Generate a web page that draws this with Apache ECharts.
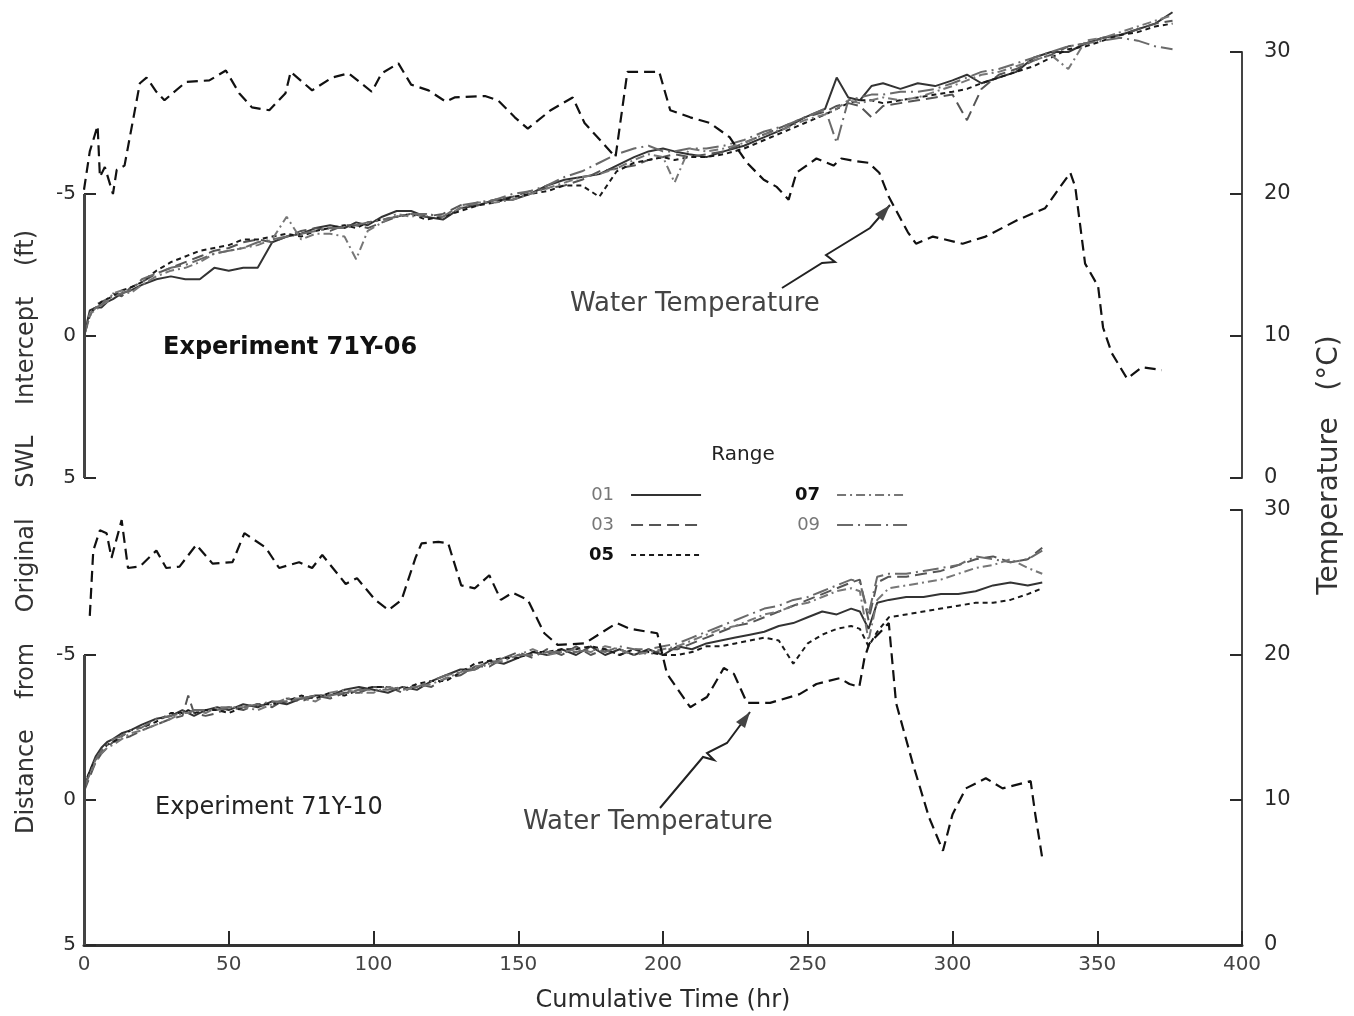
<!DOCTYPE html>
<html>
<head>
<meta charset="utf-8">
<title>Experiments 71Y-06 / 71Y-10</title>
<script src="https://cdn.jsdelivr.net/npm/echarts@6/dist/echarts.min.js"></script>
<style>
  html, body { margin: 0; padding: 0; background: #fff; }
  #chart { width: 1354px; height: 1016px; }
</style>
</head>
<body>
<div id="chart"></div>
<script>
// ---------------- data: experiment 71Y-06 (upper panel) ----------------
var topHours = [0, 2, 4, 6, 8, 10, 13, 16, 20, 25, 30, 35, 40, 45, 50, 55, 60, 65, 70, 75, 80, 85, 90, 94, 98, 103, 108, 113, 118, 124,
  130, 136, 142, 148, 154, 160, 166, 172, 178, 184, 190, 195, 200, 204, 209, 215, 221, 228, 235, 242, 249, 256, 260, 264, 268, 272, 276,
  282, 288, 294, 300, 305, 310, 316, 322, 328, 334, 340, 346, 352, 358, 364, 370, 376];
var top01 = [0, -0.9, -1.0, -1.0, -1.2, -1.3, -1.5, -1.6, -1.8, -2.0, -2.1, -2.0, -2.0, -2.4, -2.3, -2.4, -2.4, -3.3, -3.5, -3.6, -3.8, -3.9, -3.8, -4.0, -3.9, -4.2, -4.4, -4.4, -4.2, -4.1,
  -4.5, -4.6, -4.8, -4.8, -5.0, -5.3, -5.5, -5.6, -5.7, -6.0, -6.3, -6.5, -6.6, -6.5, -6.4, -6.3, -6.5, -6.7, -7.0, -7.3, -7.7, -8.0, -9.1, -8.4, -8.3, -8.8, -8.9,
  -8.7, -8.9, -8.8, -9.0, -9.2, -8.9, -9.1, -9.3, -9.8, -10.0, -10.0, -10.3, -10.5, -10.6, -10.8, -11.0, -11.4];
var top03 = [0, -0.7, -1.1, -1.2, -1.3, -1.5, -1.4, -1.7, -1.9, -2.2, -2.4, -2.6, -2.8, -3.0, -3.1, -3.3, -3.4, -3.3, -3.5, -3.7, -3.8, -3.7, -3.9, -3.9, -3.8, -4.0, -4.2, -4.3, -4.2, -4.3,
  -4.6, -4.6, -4.8, -4.9, -5.1, -5.2, -5.3, -5.5, -5.8, -5.9, -6.0, -6.2, -6.3, -6.4, -6.3, -6.4, -6.5, -6.8, -7.1, -7.4, -7.7, -7.9, -8.1, -8.2, -8.1, -7.7, -8.1,
  -8.2, -8.3, -8.4, -8.5, -7.6, -8.7, -9.2, -9.4, -9.7, -9.9, -10.2, -10.3, -10.5, -10.6, -10.8, -11.0, -11.1];
var top05 = [0, -0.8, -1.0, -1.2, -1.3, -1.4, -1.6, -1.7, -1.9, -2.3, -2.6, -2.8, -3.0, -3.1, -3.2, -3.4, -3.4, -3.5, -3.6, -3.5, -3.7, -3.8, -3.9, -3.8, -4.0, -4.1, -4.2, -4.3, -4.1, -4.2,
  -4.4, -4.6, -4.7, -4.9, -5.0, -5.1, -5.3, -5.3, -4.9, -5.8, -6.1, -6.2, -6.3, -6.2, -6.3, -6.3, -6.4, -6.6, -6.9, -7.2, -7.5, -7.8, -8.0, -8.2, -8.3, -8.3, -8.2,
  -8.3, -8.4, -8.5, -8.6, -8.7, -8.9, -9.1, -9.3, -9.5, -9.8, -10.1, -10.2, -10.4, -10.6, -10.7, -10.9, -11.0];
var top07 = [0, -0.8, -0.9, -1.1, -1.2, -1.5, -1.6, -1.5, -1.8, -2.1, -2.3, -2.4, -2.6, -2.9, -3.0, -3.1, -3.2, -3.4, -4.2, -3.4, -3.6, -3.6, -3.5, -2.7, -3.7, -4.0, -4.3, -4.2, -4.3, -4.2,
  -4.5, -4.7, -4.7, -4.8, -5.0, -5.2, -5.4, -5.6, -5.7, -5.9, -6.2, -6.4, -6.3, -5.4, -6.6, -6.5, -6.6, -6.8, -7.1, -7.3, -7.6, -7.8, -8.0, -8.3, -8.2, -8.3, -8.4,
  -8.3, -8.4, -8.6, -8.8, -9.0, -9.2, -9.3, -9.5, -9.7, -9.9, -9.4, -10.4, -10.5, -10.7, -10.9, -11.1, -11.3];
var top09 = [0, -0.7, -1.0, -1.1, -1.3, -1.4, -1.5, -1.6, -2.0, -2.2, -2.4, -2.5, -2.7, -2.9, -3.0, -3.1, -3.3, -3.4, -3.5, -3.6, -3.7, -3.8, -3.8, -3.9, -4.0, -4.1, -4.2, -4.3, -4.3, -4.2,
  -4.6, -4.7, -4.8, -5.0, -5.1, -5.3, -5.6, -5.8, -6.1, -6.4, -6.6, -6.7, -6.5, -6.5, -6.6, -6.6, -6.7, -6.9, -7.2, -7.4, -7.7, -8.0, -6.8, -8.3, -8.4, -8.5, -8.5,
  -8.6, -8.6, -8.7, -8.9, -9.1, -9.3, -9.4, -9.6, -9.8, -10.0, -10.2, -10.3, -10.4, -10.5, -10.4, -10.2, -10.1];
var topTempHours = [0, 2, 4.7, 5.5, 7.2, 10, 11.3, 14, 19.3, 21.6, 25, 27.8, 30.6, 35.3, 43.3, 49, 53.6, 58, 64, 69.6, 71.4, 78.8, 85.7, 91.4,
  99.4, 102.8, 108.6, 113, 119, 125, 128, 138.5, 143, 148.8, 153.3, 161.2, 168.8, 172.9, 183.6, 187.7, 198.7, 202.5, 209.4, 216.2, 223,
  229, 234.8, 239.3, 243.4, 246.1, 253, 258.9, 261.6, 267, 271, 274.7, 278, 284.6, 287.4, 293.2, 303.5, 311.4, 322.8, 332, 336.5, 340.7,
  342.4, 345.8, 350.3, 352, 355, 360.3, 365.4, 372.3];
var topTemp = [20.3, 23, 24.8, 21.2, 21.9, 20, 21.7, 22, 27.8, 28.2, 27.2, 26.6, 27.1, 27.9, 28, 28.7, 27.1, 26.1, 25.9, 27.1, 28.6, 27.3, 28.2, 28.5,
  27.2, 28.5, 29.2, 27.7, 27.3, 26.5, 26.8, 26.9, 26.6, 25.4, 24.6, 25.9, 26.8, 25, 22.6, 28.6, 28.6, 25.9, 25.4, 25, 24,
  22.2, 21, 20.5, 19.6, 21.5, 22.5, 22, 22.5, 22.3, 22.2, 21.5, 19.8, 17.3, 16.5, 17, 16.5, 17, 18.2, 19, 20.3, 21.5,
  20.5, 15.1, 13.5, 10.6, 8.8, 7, 7.8, 7.6];

// ---------------- data: experiment 71Y-10 (lower panel) ----------------
var botHours = [0, 2, 4, 6, 8, 10, 13, 16, 20, 25, 30, 34, 36, 38, 42, 46, 50, 55, 60, 65, 70, 75, 80, 85, 90, 95, 100, 105, 110, 115,
  120, 125, 130, 135, 140, 145, 150, 155, 160, 165, 170, 175, 180, 185, 190, 195, 200, 205, 210, 215, 220, 225, 230, 235, 240, 245, 250,
  255, 260, 265, 268, 271, 274, 278, 284, 290, 296, 302, 308, 314, 320, 326, 331];
var bot01 = [-0.4, -1.0, -1.5, -1.8, -2.0, -2.1, -2.3, -2.4, -2.6, -2.8, -2.9, -3.1, -3.0, -2.9, -3.1, -3.2, -3.1, -3.3, -3.2, -3.4, -3.3, -3.5, -3.6, -3.6, -3.8, -3.9, -3.8, -3.7, -3.9, -3.8,
  -4.1, -4.3, -4.5, -4.5, -4.8, -4.7, -4.9, -5.1, -5.0, -5.2, -5.0, -5.3, -5.0, -5.2, -5.0, -5.2, -5.0, -5.3, -5.2, -5.4, -5.5, -5.6, -5.7, -5.8, -6.0, -6.1, -6.3,
  -6.5, -6.4, -6.6, -6.5, -5.9, -6.8, -6.9, -7.0, -7.0, -7.1, -7.1, -7.2, -7.4, -7.5, -7.4, -7.5];
var bot03 = [-0.3, -0.8, -1.3, -1.6, -1.8, -2.0, -2.1, -2.2, -2.4, -2.6, -2.8, -2.9, -3.6, -3.0, -2.9, -3.0, -3.2, -3.1, -3.3, -3.2, -3.5, -3.4, -3.6, -3.5, -3.7, -3.7, -3.9, -3.9, -3.7, -4.0,
  -3.9, -4.2, -4.3, -4.6, -4.6, -4.9, -5.1, -4.9, -5.2, -5.0, -5.3, -5.0, -5.2, -5.0, -5.2, -5.0, -5.2, -5.2, -5.4, -5.6, -5.8, -6.0, -6.1, -6.3, -6.5, -6.7, -6.9,
  -7.1, -7.3, -7.5, -7.6, -6.2, -7.5, -7.7, -7.7, -7.8, -7.9, -8.1, -8.3, -8.4, -8.2, -8.3, -8.7];
var bot05 = [-0.5, -1.0, -1.4, -1.7, -1.9, -2.0, -2.2, -2.4, -2.5, -2.7, -3.0, -3.0, -3.1, -3.0, -3.1, -3.1, -3.0, -3.2, -3.3, -3.3, -3.4, -3.6, -3.5, -3.7, -3.6, -3.8, -3.9, -3.9, -3.8, -4.0,
  -4.1, -4.1, -4.4, -4.7, -4.8, -4.9, -4.9, -5.1, -5.1, -5.2, -5.2, -5.3, -5.2, -5.0, -5.2, -5.1, -5.0, -5.0, -5.1, -5.3, -5.3, -5.4, -5.5, -5.6, -5.5, -4.7, -5.4,
  -5.7, -5.9, -6.0, -5.9, -5.3, -5.8, -6.3, -6.4, -6.5, -6.6, -6.7, -6.8, -6.8, -6.9, -7.1, -7.3];
var bot07 = [-0.4, -0.9, -1.3, -1.6, -1.8, -1.9, -2.1, -2.3, -2.4, -2.6, -2.8, -3.0, -3.0, -3.1, -3.0, -3.2, -3.2, -3.2, -3.1, -3.3, -3.5, -3.5, -3.4, -3.7, -3.8, -3.7, -3.7, -3.9, -3.8, -3.9,
  -4.0, -4.2, -4.4, -4.6, -4.7, -4.8, -5.0, -5.2, -5.0, -5.1, -5.2, -5.1, -5.3, -5.2, -5.0, -5.1, -5.2, -5.3, -5.5, -5.7, -5.9, -6.0, -6.2, -6.4, -6.5, -6.7, -6.8,
  -7.0, -7.2, -7.3, -7.2, -5.5, -6.9, -7.3, -7.4, -7.5, -7.6, -7.8, -8.0, -8.1, -8.3, -8.0, -7.8];
var bot09 = [-0.4, -0.9, -1.4, -1.7, -1.9, -2.1, -2.2, -2.4, -2.5, -2.8, -2.9, -3.0, -3.0, -3.1, -3.1, -3.1, -3.2, -3.2, -3.3, -3.4, -3.4, -3.5, -3.6, -3.6, -3.7, -3.8, -3.8, -3.8, -3.9, -3.9,
  -4.1, -4.3, -4.4, -4.5, -4.7, -4.9, -5.0, -5.0, -5.1, -5.1, -5.1, -5.2, -5.1, -5.3, -5.2, -5.2, -5.3, -5.4, -5.6, -5.8, -6.0, -6.2, -6.4, -6.6, -6.7, -6.9, -7.0,
  -7.2, -7.4, -7.6, -7.5, -6.4, -7.7, -7.8, -7.8, -7.9, -8.0, -8.1, -8.4, -8.3, -8.2, -8.3, -8.6];
var botTempHours = [2, 3.2, 5.5, 7.8, 9.5, 13, 15.2, 19.3, 25, 28.4, 33, 38.8, 44.4, 51.3, 55.4, 62.8, 67.4, 74.3, 78.8, 82.3, 90.4, 94.3,
  100.6, 105.2, 109.7, 114.5, 116.6, 122.4, 125.8, 130.3, 135, 140, 144, 148, 153.3, 159, 163.6, 172.9, 184, 188.7, 198, 201.4, 209.4,
  215.2, 221, 224.5, 229, 237, 247.2, 253, 261, 264.4, 267.8, 269.6, 271.3, 278, 280.5, 286.3, 291.9, 296.7, 300, 304.6, 311.5, 317.3,
  327, 328.6, 331];
var botTemp = [22.7, 27.2, 28.6, 28.4, 26.7, 29.3, 26, 26.1, 27.2, 26, 26.1, 27.6, 26.3, 26.4, 28.4, 27.4, 26, 26.4, 26, 26.9, 24.9, 25.3,
  23.8, 23.1, 23.8, 26.7, 27.7, 27.8, 27.7, 24.8, 24.6, 25.5, 23.8, 24.3, 23.8, 21.5, 20.7, 20.8, 22.2, 21.8, 21.5, 18.7, 16.4,
  17.1, 19.1, 18.7, 16.7, 16.7, 17.3, 18, 18.4, 18, 17.8, 19.8, 20.8, 22.2, 16.7, 12.5, 8.8, 6.5, 9, 10.8, 11.5, 10.8,
  11.3, 9, 6];

// ---------------- axes / legend labels ----------------
var rangeNames = ['01', '03', '05', '07', '09'];
var distTicks = [-5, 0, 5];

function pairs(xs, ys) {
  return xs.map(function (x, i) { return [x, ys[i]]; });
}

var rangeStyle = {
  '01': { color: '#333', type: 'solid' },
  '03': { color: '#555', type: [12, 6] },
  '05': { color: '#1a1a1a', type: [5, 4] },
  '07': { color: '#777', type: [9, 4, 2, 4] },
  '09': { color: '#6a6a6a', type: [16, 5, 2, 5] }
};
var topRanges = { '01': top01, '03': top03, '05': top05, '07': top07, '09': top09 };
var botRanges = { '01': bot01, '03': bot03, '05': bot05, '07': bot07, '09': bot09 };

var font = 'DejaVu Sans';
var ink = '#2a2a2a';

function distAxis(grid) {
  return {
    gridIndex: grid, type: 'value', min: -10, max: 5, interval: 5, inverse: true,
    axisLine: { show: false },
    splitLine: { show: false },
    axisTick: { inside: true, length: 12, customValues: distTicks, lineStyle: { color: ink, width: 2 } },
    axisLabel: { customValues: distTicks, margin: 8, fontSize: 20, color: ink, fontFamily: font }
  };
}
function tempAxis(grid) {
  return {
    gridIndex: grid, type: 'value', position: 'right', min: 0, max: 30, interval: 10,
    axisLine: { show: true, lineStyle: { color: '#444', width: 2 } },
    splitLine: { show: false },
    axisTick: { inside: true, length: 12, lineStyle: { color: ink, width: 2 } },
    axisLabel: { margin: 22, fontSize: 21, color: ink, fontFamily: font }
  };
}

var series = [];
rangeNames.forEach(function (n) {
  series.push({
    name: n, type: 'line', xAxisIndex: 0, yAxisIndex: 0, data: pairs(topHours, topRanges[n]),
    symbol: 'none', clip: false, z: 3,
    lineStyle: { width: 2, color: rangeStyle[n].color, type: rangeStyle[n].type },
    itemStyle: { color: rangeStyle[n].color }
  });
  series.push({
    name: n, type: 'line', xAxisIndex: 1, yAxisIndex: 2, data: pairs(botHours, botRanges[n]),
    symbol: 'none', clip: false, z: 3,
    lineStyle: { width: 2, color: rangeStyle[n].color, type: rangeStyle[n].type },
    itemStyle: { color: rangeStyle[n].color }
  });
});
// water temperature (dashed) on the right-hand scales
series.push({
  name: 'Water Temperature', type: 'line', xAxisIndex: 0, yAxisIndex: 1, data: pairs(topTempHours, topTemp),
  symbol: 'none', z: 4, lineStyle: { width: 2.2, color: '#111', type: [11, 6] }
});
series.push({
  name: 'Water Temperature', type: 'line', xAxisIndex: 1, yAxisIndex: 3, data: pairs(botTempHours, botTemp),
  symbol: 'none', z: 4, lineStyle: { width: 2.2, color: '#111', type: [11, 6] }
});
// left axis lines only run from -5 to 5 ft
[[0, 0], [1, 2]].forEach(function (ix) {
  series.push({
    type: 'line', xAxisIndex: ix[0], yAxisIndex: ix[1], data: [], symbol: 'none', silent: true,
    markLine: {
      symbol: 'none', silent: true, label: { show: false },
      lineStyle: { color: '#444', width: 3, type: 'solid' },
      data: [[{ coord: [0, distTicks[0]] }, { coord: [0, distTicks[2]] }]]
    }
  });
});

function legendItems(names) {
  return names.map(function (n) {
    var bold = (n === '05' || n === '07');
    return { name: n, textStyle: { color: bold ? '#111' : '#777', fontWeight: bold ? 'bold' : 'normal' } };
  });
}

function legendBox(names, left) {
  return {
    data: legendItems(names), orient: 'vertical', left: left, top: 481,
    align: 'right', itemWidth: 70, itemHeight: 14, itemGap: 12, selectedMode: false,
    itemStyle: { color: 'rgba(0,0,0,0)', borderWidth: 0 },
    textStyle: { fontSize: 18, fontFamily: font, padding: [0, 12, 0, 0] }
  };
}

function arrow(pts, tip, head) {
  return [
    { type: 'polyline', shape: { points: pts.concat([tip]) }, style: { stroke: '#222', lineWidth: 2, fill: null } },
    { type: 'polygon', shape: { points: head }, style: { fill: '#444' } }
  ];
}

var option = {
  animation: false,
  backgroundColor: '#fff',
  grid: [
    { left: 84, right: 112, top: 52, height: 426 },
    { left: 84, right: 112, top: 510, height: 435 }
  ],
  xAxis: [
    { gridIndex: 0, type: 'value', min: 0, max: 400, show: false },
    {
      gridIndex: 1, type: 'value', min: 0, max: 400, interval: 50,
      name: 'Cumulative Time (hr)', nameLocation: 'middle', nameGap: 44,
      nameTextStyle: { fontSize: 24, color: ink, fontFamily: font },
      axisLine: { onZero: false, lineStyle: { color: '#333', width: 3 } },
      splitLine: { show: false },
      axisTick: { inside: true, length: 14, lineStyle: { color: ink, width: 2 } },
      axisLabel: { margin: 10, fontSize: 20, color: '#444', fontFamily: font }
    }
  ],
  yAxis: [distAxis(0), tempAxis(0), distAxis(1), tempAxis(1)],
  legend: [legendBox(['01', '03', '05'], 584), legendBox(['07', '09'], 790)],
  graphic: [
    { type: 'text', x: 743, y: 455, style: { text: 'Range', font: '20px ' + font, fill: '#222', align: 'center', verticalAlign: 'middle' } },
    { type: 'text', x: 163, y: 348, style: { text: 'Experiment 71Y-06', font: 'bold 24px ' + font, fill: '#111', verticalAlign: 'middle' } },
    { type: 'text', x: 155, y: 808, style: { text: 'Experiment 71Y-10', font: '24px ' + font, fill: '#222', verticalAlign: 'middle' } },
    { type: 'text', x: 570, y: 304, style: { text: 'Water Temperature', font: '26px ' + font, fill: '#444', verticalAlign: 'middle' } },
    { type: 'text', x: 523, y: 822, style: { text: 'Water Temperature', font: '26px ' + font, fill: '#444', verticalAlign: 'middle' } },
    {
      type: 'text', x: 27, y: 532, rotation: Math.PI / 2,
      style: { text: 'Distance    from    Original    SWL    Intercept    (ft)', font: '24px ' + font, fill: '#333', align: 'center', verticalAlign: 'middle' }
    },
    {
      type: 'text', x: 1330, y: 465, rotation: Math.PI / 2,
      style: { text: 'Temperature   (°C)', font: '28px ' + font, fill: '#333', align: 'center', verticalAlign: 'middle' }
    }
  ]
    .concat(arrow([[782, 288], [822, 263], [835, 262], [826, 255], [870, 228]], [890, 205], [[890, 205], [883, 221], [875, 214]]))
    .concat(arrow([[660, 808], [703, 757], [714, 760], [707, 753], [727, 743]], [750, 712], [[750, 712], [745, 728], [736, 722]])),
  series: series
};

var chart = echarts.init(document.getElementById('chart'));
chart.setOption(option);
</script>
</body>
</html>
